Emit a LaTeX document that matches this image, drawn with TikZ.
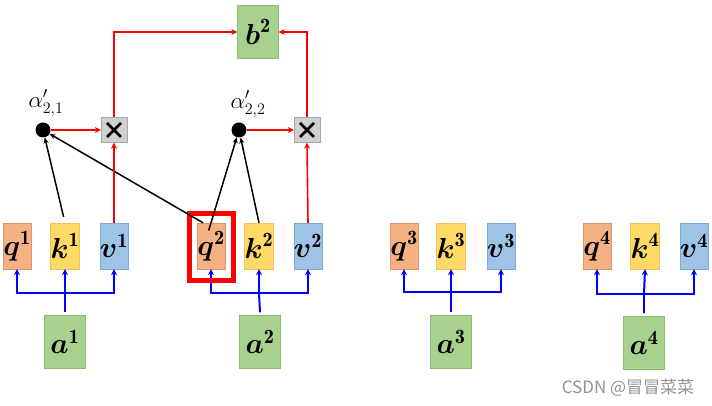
\RequirePackage{fix-cm}
\documentclass[tikz,border=0pt]{standalone}
\usepackage{amsmath}
\usepackage{fontspec}
\newfontfamily\cjk{Noto Sans CJK SC}
\usetikzlibrary{arrows.meta}

\definecolor{qfill}{HTML}{F4B183}
\definecolor{qline}{HTML}{E0926A}
\definecolor{kfill}{HTML}{FFD966}
\definecolor{kline}{HTML}{F2C14E}
\definecolor{vfill}{HTML}{9DC3E6}
\definecolor{vline}{HTML}{7FA8D6}
\definecolor{afill}{HTML}{A9D18E}
\definecolor{aline}{HTML}{8DBB70}
\definecolor{xfill}{HTML}{D0D0D0}

\tikzset{
    vec/.style={draw, inner sep=0pt, minimum width=26, minimum height=46, font=\fontsize{29}{32}\selectfont},
    qv/.style={vec, fill=qfill, draw=qline},
    kv/.style={vec, fill=kfill, draw=kline},
    vv/.style={vec, fill=vfill, draw=vline},
    inp/.style={draw=aline, fill=afill, inner sep=0pt, minimum width=41, minimum height=53, font=\fontsize{29}{32}\selectfont},
    mult/.style={draw=gray!70, fill=xfill, inner sep=0pt, minimum width=26, minimum height=25},
    score/.style={circle, fill=black, inner sep=0pt, minimum size=15},
    redarr/.style={draw=red, line width=1.6, -{Stealth[length=6, width=6]}},
    bluearr/.style={draw=blue, line width=2, -{Stealth[length=6, width=6]}},
    blackarr/.style={draw=black, line width=1.5, -{Stealth[length=6, width=5]}}
}

\begin{document}
\begin{tikzpicture}[x=1pt, y=1pt]
    \useasboundingbox (0,0) rectangle (712,406);

    \begin{scope} %a1
        \node[qv] (q1) at (17,160) {$\boldsymbol{q}^{\mathbf{1}}$};
        \node[kv] (k1) at (65,160) {$\boldsymbol{k}^{\mathbf{1}}$};
        \node[vv] (v1) at (114,160) {$\boldsymbol{v}^{\mathbf{1}}$};
        \node[inp] (a1) at (65,64) {$\boldsymbol{a}^{\mathbf{1}}$};
        \coordinate (j1) at (65,113);
        \draw[blue, line width=2] ([yshift=3]a1.north) -- (j1);
        \path[bluearr] (j1) -| (q1.south);
        \path[bluearr] (j1) -- (k1.south);
        \path[bluearr] (j1) -| (v1.south);
    \end{scope}

    \begin{scope} %a2
        \node[qv] (q2) at (211,160) {$\boldsymbol{q}^{\mathbf{2}}$};
        \node[kv] (k2) at (259,160) {$\boldsymbol{k}^{\mathbf{2}}$};
        \node[vv] (v2) at (308,160) {$\boldsymbol{v}^{\mathbf{2}}$};
        \node[inp] (a2) at (260,64) {$\boldsymbol{a}^{\mathbf{2}}$};
        \coordinate (j2) at (259,113);
        \draw[blue, line width=2] ([yshift=3]a2.north) -- (j2);
        \path[bluearr] (j2) -| (q2.south);
        \path[bluearr] (j2) -- (k2.south);
        \path[bluearr] (j2) -| (v2.south);
        \node[draw=red, line width=5, minimum width=44, minimum height=67] (hl) at (211.5,159) {};
    \end{scope}

    \begin{scope} %a3
        \node[qv] (q3) at (404,160) {$\boldsymbol{q}^{\mathbf{3}}$};
        \node[kv] (k3) at (451,160) {$\boldsymbol{k}^{\mathbf{3}}$};
        \node[vv] (v3) at (501,160) {$\boldsymbol{v}^{\mathbf{3}}$};
        \node[inp] (a3) at (451,64) {$\boldsymbol{a}^{\mathbf{3}}$};
        \coordinate (j3) at (451,114);
        \draw[blue, line width=2] ([yshift=3]a3.north) -- (j3);
        \path[bluearr] (j3) -| (q3.south);
        \path[bluearr] (j3) -- (k3.south);
        \path[bluearr] (j3) -| (v3.south);
    \end{scope}

    \begin{scope} %a4
        \node[qv] (q4) at (597,160) {$\boldsymbol{q}^{\mathbf{4}}$};
        \node[kv] (k4) at (645,160) {$\boldsymbol{k}^{\mathbf{4}}$};
        \node[vv] (v4) at (694,160) {$\boldsymbol{v}^{\mathbf{4}}$};
        \node[inp] (a4) at (644,63) {$\boldsymbol{a}^{\mathbf{4}}$};
        \coordinate (j4) at (644,112);
        \draw[blue, line width=2] ([yshift=3]a4.north) -- (j4);
        \path[bluearr] (j4) -| (q4.south);
        \path[bluearr] (j4) -- (k4.south);
        \path[bluearr] (j4) -| (v4.south);
    \end{scope}

    % attention scores and weighted sum
    \node[score] (d21) at (43,276) {};
    \node[score] (d22) at (239,276) {};
    \node[font=\fontsize{23}{26}\selectfont] (l21) at (46,303) {$\alpha'_{2,1}$};
    \node[font=\fontsize{23}{26}\selectfont] (l22) at (248,302) {$\alpha'_{2,2}$};
    \node[mult] (x1) at (114,276) {};
    \node[mult] (x2) at (307,276) {};
    \draw[line width=2.6] ([shift={(-7,-7)}]x1.center) -- ([shift={(7,7)}]x1.center)
        ([shift={(-7,7)}]x1.center) -- ([shift={(7,-7)}]x1.center);
    \draw[line width=2.6] ([shift={(-7,-7)}]x2.center) -- ([shift={(7,7)}]x2.center)
        ([shift={(-7,7)}]x2.center) -- ([shift={(7,-7)}]x2.center);
    \node[inp] (b2) at (258,374) {$\boldsymbol{b}^{\mathbf{2}}$};

    \path[blackarr, shorten <=6] (k1.north) -- (d21);
    \path[blackarr] ([xshift=-8]q2.north) -- (d21);
    \path[blackarr, shorten <=-8] (q2.north) -- (d22);
    \path[blackarr] (k2.north) -- (d22);

    \path[redarr] (d21.east) -- (x1.west);
    \path[redarr] (d22.east) -- (x2.west);
    \path[redarr] (v1.north) -- (x1.south);
    \path[redarr] (v2.north) -- (x2.south);
    \path[redarr] (x1.north) |- (b2.west);
    \path[redarr] (x2.north) |- (b2.east);

    \node[text=gray!85, font=\cjk\fontsize{17}{20}\selectfont] (wm) at (628,18) {CSDN @冒冒菜菜};
\end{tikzpicture}
\end{document}
